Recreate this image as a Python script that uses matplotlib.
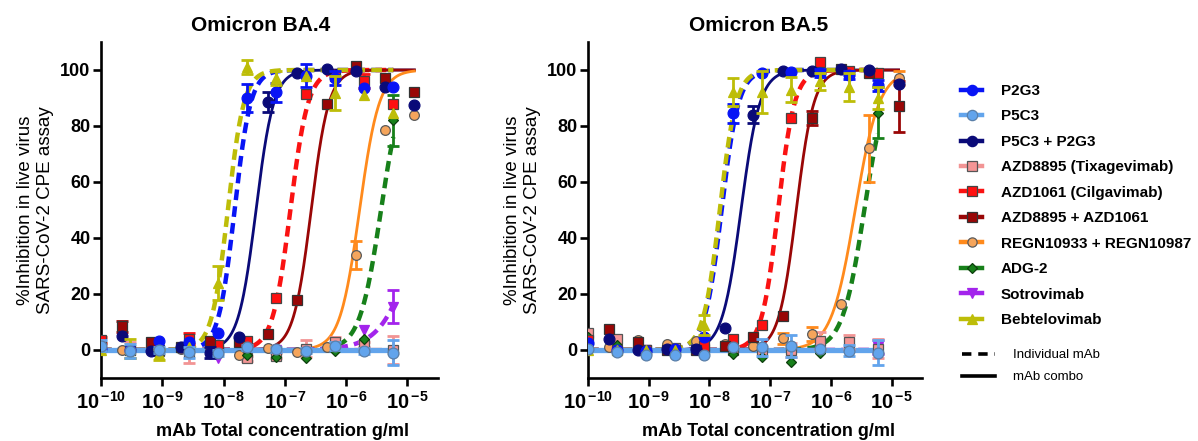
import numpy as np
import matplotlib
matplotlib.use("Agg")
import matplotlib.pyplot as plt
from matplotlib.lines import Line2D
from matplotlib.ticker import FixedLocator, FuncFormatter, NullLocator

plt.rcParams['font.family'] = ['Liberation Sans', 'DejaVu Sans']
plt.rcParams['mathtext.fontset'] = 'custom'
plt.rcParams['mathtext.rm'] = 'Liberation Sans'
plt.rcParams['mathtext.bf'] = 'Liberation Sans:bold'

# ---------------- data ----------------
series_names = ["P2G3", "P5C3", "P5C3 + P2G3", "AZD8895 (Tixagevimab)",
                "AZD1061 (Cilgavimab)", "AZD8895 + AZD1061",
                "REGN10933 + REGN10987", "ADG-2", "Sotrovimab", "Bebtelovimab"]
is_combo = [False, False, True, False, False, True, True, False, False, False]

conc_single = [1e-10, 3e-10, 9e-10, 2.7e-9, 8.1e-9, 2.43e-8, 7.29e-8,
               2.19e-7, 6.56e-7, 1.97e-6, 5.9e-6]
conc_combo = [2.2e-10, 6.6e-10, 2.0e-9, 5.9e-9, 1.78e-8, 5.3e-8, 1.6e-7,
              4.8e-7, 1.44e-6, 4.3e-6, 1.3e-5]

x_ticks = [1e-10, 1e-9, 1e-8, 1e-7, 1e-6, 1e-5]
y_ticks = [0, 20, 40, 60, 80, 100]
panel_titles = ["Omicron BA.4", "Omicron BA.5"]

# BA.4 mean % inhibition
ba4_p2g3 = [0.5, 0, 3.3, 2.8, 6.2, 90, 92, 98, 97, 93.5, 94]
ba4_p5c3 = [1.5, -0.3, 0, -0.8, -1, 0.9, 0.2, -0.2, 1.5, -0.3, -1]
ba4_p5c3_p2g3 = [5, -0.2, 1, -0.9, 4.5, 88.5, 99, 100.3, 99.5, 94, 87.5]
ba4_azd8895 = [1, 0, -0.5, -1, 0, -3, -2, 0.5, 3, 2, 0]
ba4_azd1061 = [3.5, 0, 0, 4, 1.8, 3.3, 18.5, 91.5, 98, 96, 88]
ba4_azd_combo = [8.5, 2.7, 1.2, 3.3, 2.7, 5.7, 18, 88, 101.5, 97.3, 92.3]
ba4_regn = [0, 0, 0.5, 0, -1.8, 0.6, -0.6, 1.2, 34, 78.5, 84]
ba4_adg2 = [0, -1, -1.5, 0, 0, -1.8, -2.5, -3, -0.3, 4, 82]
ba4_sotrovimab = [0, 0, 0, 0, -3, 0, 0, 0, 0.5, 7, 15.5]
ba4_bebtelovimab = [0, 0.5, -1.5, 1, 24, 101, 97, 98, 91.7, 91, 84.5]

# BA.4 error (SEM)
ba4_p2g3_err = [0, 0, 0, 0, 0, 5, 3.5, 4, 2.5, 0, 0]
ba4_p5c3_err = [2, 2.5, 1, 2, 1, 1, 1, 1, 1.5, 1, 4.5]
ba4_p5c3_p2g3_err = [0, 0, 0, 2, 0, 3.5, 0, 0, 0, 0, 0]
ba4_azd8895_err = [0, 3, 0, 3.5, 0, 1, 1, 3, 1.5, 1, 5]
ba4_azd1061_err = [1, 0, 0, 2, 0, 0, 0, 0, 0, 2.5, 0]
ba4_azd_combo_err = [2, 0, 0, 0, 0, 0, 0, 0, 0, 0, 0]
ba4_regn_err = [0, 0, 0, 0, 0, 0, 0, 0, 5, 0, 0]
ba4_adg2_err = [0, 0, 0, 0, 0, 0, 0, 0, 0, 0, 9]
ba4_sotrovimab_err = [0, 0, 0, 0, 0, 0, 0, 0, 0, 0, 6]
ba4_bebtelovimab_err = [0, 3.5, 2, 0, 6, 2.5, 2.5, 0, 6, 0, 0]

# BA.5 mean % inhibition
ba5_p2g3 = [2.5, 0, -0.3, 0.2, 4.6, 84.5, 99, 99.2, 99, 98.2, 94.6]
ba5_p5c3 = [0.5, -0.8, -1.8, -1.8, -1.8, 0.9, 1, 1.5, 0.5, -0.3, -1]
ba5_p5c3_p2g3 = [4, 0, 0.3, 0.5, 7.7, 84, 99.7, 99.7, 100.2, 100, 95]
ba5_azd8895 = [6, 3.8, 0, 0.8, 0.5, 0, 0, 0, 3.3, 3, 0.5]
ba5_azd1061 = [3.5, 0, 0, 0, 1.5, 3.8, 9, 83, 103, 99.8, 99]
ba5_azd_combo = [7.5, 3, 0, 0, 1.5, 4.8, 12, 83, 100.3, 99, 87]
ba5_regn = [1, 3.5, 2, 3.2, 2, 1.5, 4.2, 5.7, 16.5, 72, 97.3]
ba5_adg2 = [4.5, 1.8, 0, 0, 0.5, -1.5, -2.5, -4.4, -1, 0, 84.8]
ba5_sotrovimab = [0, 0, 0, 0, 0, 0, 0, 0, 0, 0.5, 1]
ba5_bebtelovimab = [0, 0, 0, 0, 9, 92, 92, 93, 96, 94, 90]

# BA.5 error (SEM)
ba5_p2g3_err = [0, 0, 0, 0, 0, 3.5, 0, 0, 1.5, 1.5, 2]
ba5_p5c3_err = [0, 0, 0, 0, 0, 0, 3, 4, 0, 2, 4.5]
ba5_p5c3_p2g3_err = [0, 0, 0, 0, 0, 3, 0, 0, 0, 0, 0]
ba5_azd8895_err = [0, 0, 0, 0, 0, 0, 0, 2.5, 3, 2.5, 3.5]
ba5_azd1061_err = [0, 0, 0, 0, 0, 0, 0, 0, 0, 0, 0]
ba5_azd_combo_err = [0, 0, 0, 0, 0, 0, 0, 2.5, 0, 0, 9]
ba5_regn_err = [0, 0, 0, 0, 0, 0, 2, 2.5, 0, 12, 2.5]
ba5_adg2_err = [0, 0, 0, 0, 0, 0, 0, 0, 0, 0, 9]
ba5_sotrovimab_err = [0, 0, 0, 0, 0, 0, 0, 0, 0, 0, 2.5]
ba5_bebtelovimab_err = [0, 0, 0, 0, 3.5, 5, 7.5, 4.5, 3, 5, 4]

# 4-parameter logistic fits (bottom 0, top 100): log10 EC50 and Hill slope
# None = no sigmoidal fit (flat line at 0)
ba4_fit_logec50 = [-7.82, None, -7.47, None, -6.91, -6.57, -5.78, -5.43, -4.75, -7.93]
ba4_fit_hill = [3.3, None, 3.0, None, 3.0, 3.0, 2.7, 2.5, 1.5, 3.3]
ba5_fit_logec50 = [-7.80, None, -7.48, None, -6.87, -6.57, -5.60, -5.45, None, -7.83]
ba5_fit_hill = [3.1, None, 2.8, None, 3.2, 3.0, 2.2, 2.4, None, 3.2]

ba4_values = [ba4_p2g3, ba4_p5c3, ba4_p5c3_p2g3, ba4_azd8895, ba4_azd1061,
              ba4_azd_combo, ba4_regn, ba4_adg2, ba4_sotrovimab, ba4_bebtelovimab]
ba4_errors = [ba4_p2g3_err, ba4_p5c3_err, ba4_p5c3_p2g3_err, ba4_azd8895_err,
              ba4_azd1061_err, ba4_azd_combo_err, ba4_regn_err, ba4_adg2_err,
              ba4_sotrovimab_err, ba4_bebtelovimab_err]
ba5_values = [ba5_p2g3, ba5_p5c3, ba5_p5c3_p2g3, ba5_azd8895, ba5_azd1061,
              ba5_azd_combo, ba5_regn, ba5_adg2, ba5_sotrovimab, ba5_bebtelovimab]
ba5_errors = [ba5_p2g3_err, ba5_p5c3_err, ba5_p5c3_p2g3_err, ba5_azd8895_err,
              ba5_azd1061_err, ba5_azd_combo_err, ba5_regn_err, ba5_adg2_err,
              ba5_sotrovimab_err, ba5_bebtelovimab_err]

# ---------------- styles ----------------
line_colors = ['#0814F5', '#62A4EC', '#0A0A78', '#F29494', '#FA1212',
               '#990606', '#FF8A1C', '#17801A', '#A324EC', '#BDBD08']
face_colors = ['#0814F5', '#62A4EC', '#0A0A78', '#F49595', '#FF1010',
               '#990606', '#F5A55C', '#17801A', '#A324EC', '#BDBD08']
edge_colors = ['#0814F5', '#5A7FA8', '#0A0A78', '#555555', '#444444',
               '#333333', '#5A5A5A', '#0D3F0D', '#A324EC', '#BDBD08']
markers = ['o', 'o', 'o', 's', 's', 's', 'o', 'D', 'v', '^']
msizes = [7.8, 7.8, 7.8, 7.4, 7.4, 7.4, 7.0, 5.6, 7.8, 7.8]
point_z = [8, 12, 7, 5, 6, 6, 5, 5, 4, 9]

DASH = (0, (2.4, 1.4))


def fit_curve(logx, logec50, hill):
    return 100.0 / (1.0 + 10 ** ((logec50 - logx) * hill))


fig = plt.figure(figsize=(11.98, 4.41), dpi=100)
ax_pos = [[101 / 1198, 1 - 378 / 441, 337 / 1198, 336 / 441],
          [588 / 1198, 1 - 378 / 441, 334 / 1198, 336 / 441]]

panels = [(ba4_values, ba4_errors, ba4_fit_logec50, ba4_fit_hill),
          (ba5_values, ba5_errors, ba5_fit_logec50, ba5_fit_hill)]
title_x = [0.475, 0.51]

for p, (vals, errs, ec50s, hills) in enumerate(panels):
    ax = fig.add_axes(ax_pos[p])
    ax.set_xscale('log')
    ax.set_xlim(1e-10, 10 ** -4.5)
    ax.set_ylim(-10, 110)

    # fitted curves
    for i in range(len(series_names)):
        conc = conc_combo if is_combo[i] else conc_single
        lx = np.linspace(np.log10(conc[0]), np.log10(conc[-1]), 400)
        if ec50s[i] is None:
            yy = np.zeros_like(lx)
        else:
            yy = fit_curve(lx, ec50s[i], hills[i])
        if i == 1:
            ax.plot(10 ** lx, yy, color=line_colors[i], lw=3.8, solid_capstyle='butt', zorder=4)
        elif is_combo[i]:
            ax.plot(10 ** lx, yy, color=line_colors[i], lw=2.0, zorder=3)
        else:
            ax.plot(10 ** lx, yy, color=line_colors[i], lw=3.2, linestyle=DASH, zorder=3)

    # data points + error bars
    for i in range(len(series_names)):
        conc = np.array(conc_combo if is_combo[i] else conc_single)
        v = np.array(vals[i])
        e = np.array(errs[i])
        m = e > 0
        if m.any():
            ax.errorbar(conc[m], v[m], yerr=e[m], fmt='none', ecolor=line_colors[i],
                        elinewidth=2.0, capsize=4.2, capthick=2.0, zorder=point_z[i] - 0.5)
        ax.plot(conc, v, linestyle='none', marker=markers[i], ms=msizes[i],
                mfc=face_colors[i], mec=edge_colors[i], mew=0.9, zorder=point_z[i])

    for s in ['top', 'right']:
        ax.spines[s].set_visible(False)
    for s in ['left', 'bottom']:
        ax.spines[s].set_linewidth(1.9)
    ax.xaxis.set_major_locator(FixedLocator(x_ticks))
    ax.xaxis.set_minor_locator(NullLocator())
    ax.xaxis.set_major_formatter(FuncFormatter(
        lambda v, pos: r'$\mathbf{10^{\,{-}%d}}$' % abs(int(round(np.log10(v))))))
    ax.yaxis.set_major_locator(FixedLocator(y_ticks))
    ax.tick_params(axis='both', direction='out', length=6, width=1.9, color='black')
    ax.tick_params(axis='x', labelsize=14.5, pad=3)
    ax.tick_params(axis='y', labelsize=13, pad=1.5)
    for lab in ax.get_yticklabels():
        lab.set_fontweight('bold')

    ax.set_title(panel_titles[p], fontsize=15, fontweight='bold', pad=8, x=title_x[p])
    ax.set_xlabel('mAb Total concentration g/ml', fontsize=13, fontweight='bold')
    ax.xaxis.set_label_coords(0.54, -0.133)
    ax.set_ylabel('%Inhibition in live virus\nSARS-CoV-2 CPE assay', fontsize=13.5,
                  linespacing=1.25)
    ax.yaxis.set_label_coords(-0.14, 0.5)

# legend of series
handles = []
for i in range(len(series_names)):
    handles.append(Line2D([0], [0], color=line_colors[i], lw=3.2, marker=markers[i],
                          ms=msizes[i] * 0.95, mfc=face_colors[i], mec=edge_colors[i], mew=0.9))
leg1 = fig.legend(handles, series_names, loc='upper left',
                  bbox_to_anchor=(961 / 1198, 1 - 84 / 441), frameon=False,
                  prop={'size': 11, 'weight': 'bold'}, handlelength=1.4,
                  handletextpad=1.2, labelspacing=0.75, borderpad=0, borderaxespad=0)

style_handles = [Line2D([0], [0], color='black', lw=2.6, linestyle=(0, (2.6, 1.9))),
                 Line2D([0], [0], color='black', lw=2.6)]
leg2 = fig.legend(style_handles, ['Individual mAb', 'mAb combo'], loc='upper left',
                  bbox_to_anchor=(962 / 1198, 1 - 349 / 441), frameon=False,
                  prop={'size': 9.5}, handlelength=2.5, handletextpad=1.4,
                  labelspacing=0.75, borderpad=0, borderaxespad=0)

fig.savefig('out.png', dpi=100)
